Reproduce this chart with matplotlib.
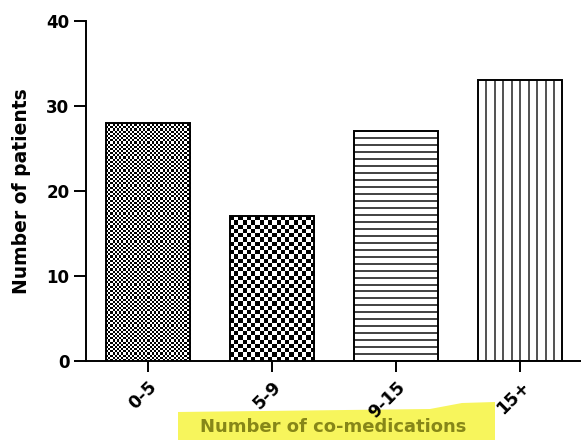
import numpy as np
import matplotlib
matplotlib.use("Agg")
import matplotlib.pyplot as plt
from matplotlib.patches import Polygon

categories = ["0-5", "5-9", "9-15", "15+"]
patients = [28, 17, 27, 33]
y_ticks = [0, 10, 20, 30, 40]

plt.rcParams["font.family"] = ["DejaVu Sans"]
plt.rcParams["font.weight"] = "bold"

fig = plt.figure(figsize=(5.81, 4.40), dpi=100)
ax = fig.add_axes([86 / 581, 79 / 440, 495 / 581, 340 / 440])
ax.set_facecolor("none")

x = np.arange(len(categories))
bar_w = 0.68
bars = ax.bar(x, patients, width=bar_w, fill=False, edgecolor="black",
              linewidth=1.4, zorder=5)

ax.set_xlim(-0.5, 3.49)
ax.set_ylim(0, 40)
ax.set_yticks(y_ticks)
ax.set_xticks(x)
ax.set_xticklabels(categories, rotation=45, ha="right", rotation_mode="anchor",
                   fontsize=12.5, fontweight="bold")
ax.tick_params(axis="y", labelsize=12, length=9, width=1.4, pad=3)
ax.tick_params(axis="x", length=8, width=1.4, pad=4)
for lbl in ax.get_yticklabels():
    lbl.set_fontweight("bold")
for s in ("top", "right"):
    ax.spines[s].set_visible(False)
for s in ("left", "bottom"):
    ax.spines[s].set_linewidth(1.4)

ax.set_ylabel("Number of patients", fontsize=13.5, fontweight="bold", labelpad=11)

# pixel scale of the data coordinates
px_x = ax.transData.transform((1, 0))[0] - ax.transData.transform((0, 0))[0]
px_y = ax.transData.transform((0, 1))[1] - ax.transData.transform((0, 0))[1]


def checker_fill(patch, cell_px):
    x0, y0 = patch.get_x(), patch.get_y()
    w, h = patch.get_width(), patch.get_height()
    nx = max(1, int(round(w * px_x / cell_px)))
    ny = max(1, int(round(h * px_y / cell_px)))
    grid = (np.add.outer(np.arange(ny), np.arange(nx)) % 2).astype(float)
    im = ax.imshow(grid, cmap="gray", vmin=0, vmax=1, interpolation="nearest",
                   extent=(x0, x0 + w, y0, y0 + h), aspect="auto", zorder=3)
    im.set_clip_path(patch)


def hline_fill(patch, step_px, lw):
    x0, y0 = patch.get_x(), patch.get_y()
    w, h = patch.get_width(), patch.get_height()
    n = max(1, int(round(h * px_y / step_px)))
    ys = y0 + h * np.arange(1, n) / n
    ax.hlines(ys, x0, x0 + w, color="#333333", linewidth=lw, zorder=4)


def vline_fill(patch, n, lw):
    x0, y0 = patch.get_x(), patch.get_y()
    w, h = patch.get_width(), patch.get_height()
    xs = x0 + w * np.arange(1, n) / n
    ax.vlines(xs, y0, y0 + h, color="#222222", linewidth=lw, zorder=4)


checker_fill(bars[0], 2.15)
checker_fill(bars[1], 4.2)
hline_fill(bars[2], 6.95, 1.3)
vline_fill(bars[3], 10, 1.1)

ax.set_xlim(-0.5, 3.49)
ax.set_ylim(0, 40)

# highlighted axis title (display pixels, origin at bottom-left)
H = 440
hl = Polygon([(178, H - 412), (430, H - 409), (462, H - 403), (495, H - 402),
              (495, 0), (178, 0)],
             closed=True, transform=None, facecolor="#f7f55c", edgecolor="none",
             zorder=-1)
fig.patches.append(hl)
fig.text(333 / 581, 1 - 427 / 440, "Number of co-medications", ha="center",
         va="center", fontsize=13, fontweight="bold", color="#868618")

fig.savefig("out.png", dpi=100)
